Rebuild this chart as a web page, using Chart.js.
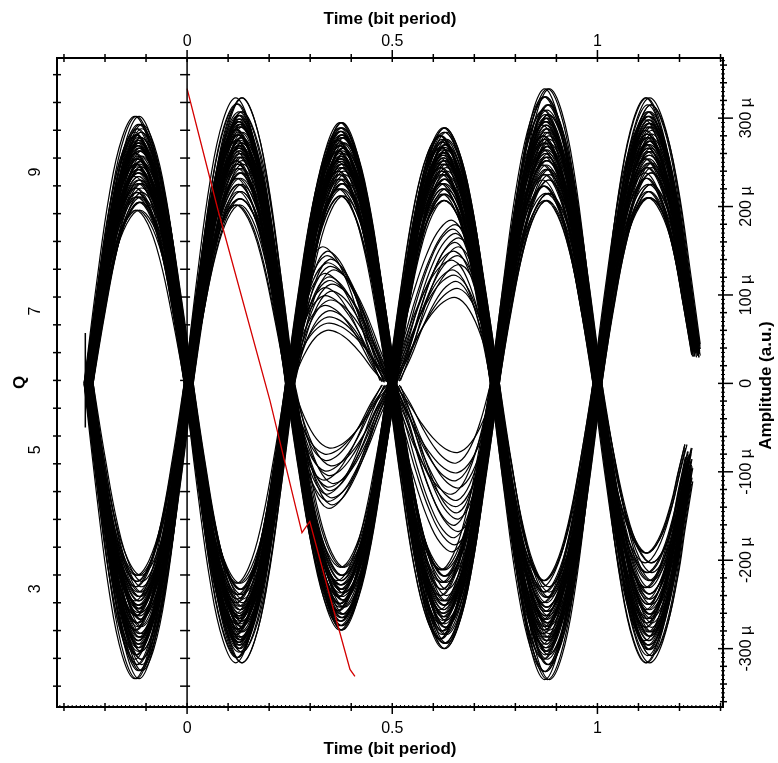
<!DOCTYPE html>
<html>
<head>
<meta charset="utf-8">
<script src="https://cdn.jsdelivr.net/npm/chart.js@4.4.1/dist/chart.umd.min.js"></script>
<style>
html, body { margin: 0; padding: 0; background: #fff; }
#wrap { width: 778px; height: 763px; position: relative; }
</style>
</head>
<body>
<div id="wrap"><canvas id="myChart"></canvas></div>
<script>
//Axis ranges
const timeMin = -0.317, timeMax = 1.306;
const qMin = 1.30, qMax = 10.64;
const ampMin = -366, ampMax = 368;

//Tick labels
const timeTickValues = [0, 0.5, 1];
const timeTickLabels = ['0', '0.5', '1'];
const qTickValues = [3, 5, 7, 9];
const ampTickValues = [-300, -200, -100, 0, 100, 200, 300];
const ampTickLabels = ['-300 \u00b5', '-200 \u00b5', '-100 \u00b5', '0', '100 \u00b5', '200 \u00b5', '300 \u00b5'];

//Where the eye crosses zero (bit period units)
const crossings = [-0.24, 0.004, 0.251, 0.5, 0.75, 1.0, 1.25];

//Timing jitter of the traces at the crossings
const jitter = [-0.011, 0.004, -0.003, 0.008, -0.006, 0.001, 0.010, -0.008, 0.003, -0.001,
                0.006, -0.004, 0.011, -0.009, 0.002, -0.005, 0.007, 0.000, -0.007, 0.005,
                -0.002, 0.009, -0.010, 0.004, -0.006, 0.008, -0.003, 0.001, 0.006, -0.008];
//every amplitude level shows up on several traces, each with its own jitter
const tracesPerLevel = [0, 11, 19];

//Shape of one lobe, position in slot and relative height
const lobeT = [0, 0.125, 0.25, 0.375, 0.5, 0.625, 0.75, 0.875, 1];
const lobeV = [0, 0.38, 0.71, 0.92, 1, 0.92, 0.71, 0.38, 0];
//last slot gets cut off before reaching zero (upper and lower stop at different places)
const tailUpT = [0, 0.125, 0.25, 0.375, 0.5, 0.625, 0.75, 0.875, 0.96];
const tailUpV = [0, 0.38, 0.71, 0.92, 1, 0.92, 0.71, 0.38, 0.14];
const tailDownT = [0, 0.125, 0.25, 0.375, 0.5, 0.625, 0.75, 0.82, 0.89];
const tailDownV = [0, 0.38, 0.71, 0.92, 1, 0.92, 0.71, 0.53, 0.36];
//smaller lobes around the middle crossing lean to one side
const leftLeanV = [0, 0.52, 0.86, 1, 0.95, 0.79, 0.55, 0.26, 0.02];
const rightLeanV = [0.02, 0.26, 0.55, 0.79, 0.95, 1, 0.86, 0.52, 0];

//Peak amplitudes (u a.u.) of the traces in each slot
const slot1Up = [302, 293, 288, 284, 281, 278, 275, 272, 269, 266, 263, 260, 257, 254, 251, 248, 245, 242, 238, 234, 230, 226, 221, 216, 211, 205, 196];
const slot1Down = [-334, -325, -318, -312, -307, -303, -299, -295, -291, -287, -283, -279, -275, -271, -267, -263, -259, -255, -251, -246, -241, -236, -230, -224, -217];
const slot2Up = [323, 316, 307, 303, 299, 296, 293, 290, 287, 284, 281, 278, 275, 272, 269, 266, 263, 260, 256, 252, 248, 243, 238, 232, 225, 217, 209, 202];
const slot2Down = [-316, -310, -304, -300, -296, -293, -290, -287, -284, -281, -278, -275, -272, -269, -266, -263, -260, -256, -252, -248, -244, -239, -233, -226];
const slot3Up = [295, 289, 285, 281, 278, 275, 272, 269, 266, 263, 260, 257, 254, 251, 248, 244, 240, 236, 231, 226, 220, 212];
const slot3Down = [-279, -274, -269, -265, -261, -257, -253, -249, -245, -241, -237, -233, -228, -223, -217, -208];
const slot3SmallUp = [154, 149, 144, 140, 136, 132, 128, 124, 120, 116, 112, 108, 104, 99, 94, 88, 82, 75, 68, 60];
const slot3SmallDown = [-141, -137, -133, -129, -125, -121, -117, -113, -109, -104, -99, -93, -87, -80, -73];
const slot4Up = [289, 284, 280, 276, 273, 270, 267, 264, 261, 258, 255, 252, 248, 244, 240, 236, 231, 226, 220, 214, 207];
const slot4Down = [-300, -294, -289, -284, -280, -276, -272, -268, -264, -260, -256, -251, -246, -240, -233, -225, -218, -211];
const slot4SmallUp = [184, 179, 174, 169, 164, 159, 154, 149, 144, 139, 134, 128, 122, 115, 107, 97];
const slot4SmallDown = [-190, -182, -174, -167, -160, -153, -146, -139, -132, -125, -118, -110, -101, -90, -78];
const slot5Up = [333, 324, 315, 309, 304, 300, 296, 292, 288, 284, 280, 276, 272, 268, 264, 260, 256, 252, 247, 242, 236, 230, 223, 215, 207];
const slot5Down = [-335, -326, -318, -312, -307, -303, -299, -295, -291, -287, -283, -279, -275, -271, -267, -263, -258, -253, -248, -242, -236, -230, -223];
const slot6Up = [323, 315, 307, 302, 298, 294, 290, 286, 282, 278, 274, 270, 266, 262, 258, 254, 249, 244, 238, 232, 225, 217, 210];
const slot6Down = [-316, -308, -301, -296, -291, -286, -281, -276, -271, -266, -261, -256, -250, -244, -238, -231, -223, -214, -203, -192];

//The small lobes end/start a bit off the middle crossing
const smallEnds3 = [0.470, 0.478, 0.485, 0.490, 0.495, 0.500, 0.505, 0.480, 0.488, 0.497, 0.502, 0.474, 0.492, 0.483, 0.499, 0.476, 0.487, 0.494, 0.503, 0.481];
const smallStarts4 = [0.485, 0.492, 0.500, 0.505, 0.510, 0.515, 0.520, 0.497, 0.508, 0.488, 0.512, 0.502, 0.494, 0.517, 0.506, 0.499];

//Stub at the very left edge
const stubTime = [-0.248, -0.248];
const stubAmp = [57, -50];

//Q curve (red), against decision time
const redTime = [0, 0.075, 0.202, 0.265, 0.280, 0.299, 0.348, 0.397, 0.409];
const redQ = [10.2, 8.46, 5.71, 4.17, 3.81, 3.97, 2.89, 1.84, 1.74];


//Makes one trace from a lobe shape
function makeLobe(start, end, tArr, vArr, amp)
{
    return tArr.map(function(t, i) {
        return { x: start + (end - start) * t, y: vArr[i] * amp };
    });
}

function traceLine(points)
{
    return {
        data: points,
        borderColor: '#000',
        borderWidth: 1.2,
        pointRadius: 0,
        tension: 0.4,
        xAxisID: 'x',
        yAxisID: 'amp'
    };
}

//a whole band of traces in one slot, every trace gets its own jitter at both ends
function bandSet(amps, slot, tArr, vArr)
{
    const n = jitter.length;
    let out = [];
    tracesPerLevel.forEach(function(shift) {
        amps.forEach(function(a, i) {
            const start = crossings[slot] + jitter[(i + slot * 3 + shift) % n];
            const end = crossings[slot + 1] + jitter[(i + slot * 3 + shift + 7) % n];
            out.push(traceLine(makeLobe(start, end, tArr, vArr, a)));
        });
    });
    return out;
}

let datasets = [];

//Red line goes first so it sits on top
datasets.push({
    data: redTime.map(function(t, i) { return { x: t, y: redQ[i] }; }),
    borderColor: '#d40000',
    borderWidth: 1.3,
    pointRadius: 0,
    tension: 0,
    xAxisID: 'x',
    yAxisID: 'q'
});

datasets.push({
    data: stubTime.map(function(t, i) { return { x: t, y: stubAmp[i] }; }),
    borderColor: '#000',
    borderWidth: 1.5,
    pointRadius: 0,
    xAxisID: 'x',
    yAxisID: 'amp'
});

datasets = datasets.concat(
    bandSet(slot1Up, 0, lobeT, lobeV),
    bandSet(slot1Down, 0, lobeT, lobeV),
    bandSet(slot2Up, 1, lobeT, lobeV),
    bandSet(slot2Down, 1, lobeT, lobeV),
    bandSet(slot3Up, 2, lobeT, lobeV),
    bandSet(slot3Down, 2, lobeT, lobeV),
    bandSet(slot4Up, 3, lobeT, lobeV),
    bandSet(slot4Down, 3, lobeT, lobeV),
    bandSet(slot5Up, 4, lobeT, lobeV),
    bandSet(slot5Down, 4, lobeT, lobeV),
    bandSet(slot6Up, 5, tailUpT, tailUpV),
    bandSet(slot6Down, 5, tailDownT, tailDownV)
);

//small lobes in slot 3 and 4, each with its own end point
slot3SmallUp.forEach(function(a, i) {
    datasets.push(traceLine(makeLobe(crossings[2] + jitter[i], smallEnds3[i], lobeT, leftLeanV, a)));
});
slot3SmallDown.forEach(function(a, i) {
    datasets.push(traceLine(makeLobe(crossings[2] + jitter[i + 5], smallEnds3[i + 3], lobeT, leftLeanV, a)));
});
slot4SmallUp.forEach(function(a, i) {
    datasets.push(traceLine(makeLobe(smallStarts4[i], crossings[4] + jitter[i + 2], lobeT, rightLeanV, a)));
});
slot4SmallDown.forEach(function(a, i) {
    datasets.push(traceLine(makeLobe(smallStarts4[i], crossings[4] + jitter[i + 9], lobeT, rightLeanV, a)));
});


//Draws the frame, ticks and labels like the original program does
const axesPlugin = {
    id: 'axesPlugin',
    afterDatasetsDraw(chart) {
        const ctx = chart.ctx;
        const a = chart.chartArea;
        const xs = chart.scales.x;
        const qs = chart.scales.q;
        const as = chart.scales.amp;

        ctx.save();
        ctx.strokeStyle = '#000';
        ctx.fillStyle = '#000';

        //frame
        ctx.lineWidth = 2;
        ctx.strokeRect(a.left, a.top, a.right - a.left, a.bottom - a.top);

        //line at time zero
        const x0 = xs.getPixelForValue(0);
        ctx.lineWidth = 1.5;
        ctx.beginPath();
        ctx.moveTo(x0, a.top);
        ctx.lineTo(x0, a.bottom);
        ctx.stroke();

        function hLine(x1, x2, y) { ctx.beginPath(); ctx.moveTo(x1, y); ctx.lineTo(x2, y); ctx.stroke(); }
        function vLine(x, y1, y2) { ctx.beginPath(); ctx.moveTo(x, y1); ctx.lineTo(x, y2); ctx.stroke(); }

        //time ticks, top and bottom
        ctx.lineWidth = 1;
        for (let i = -31; i <= 130; i++) {
            const px = xs.getPixelForValue(i / 100);
            if (px < a.left + 1 || px > a.right - 1) continue;
            if (i % 10 == 0) {
                const big = (i % 50 == 0);
                ctx.lineWidth = 1.5;
                vLine(px, a.top - (big ? 8 : 4), a.top + 4);
                vLine(px, a.bottom - 4, a.bottom + (big ? 7 : 4));
                ctx.lineWidth = 1;
            } else {
                vLine(px, a.bottom - 2, a.bottom);
            }
        }

        //Q ticks, left edge and on the zero line
        for (let i = 4; i <= 26; i++) {
            const v = i * 0.4;
            const py = qs.getPixelForValue(v);
            if (py < a.top + 1 || py > a.bottom - 1) continue;
            const big = Math.abs(v - Math.round(v)) < 0.01 && Math.round(v) % 2 == 1;
            ctx.lineWidth = 1.5;
            hLine(a.left - (big ? 7 : 4), a.left + 4, py);
            hLine(x0 - 7, x0 + 3, py);
        }

        //Amplitude ticks on the right
        for (let v = -365; v <= 365; v += 5) {
            const py = as.getPixelForValue(v);
            if (py < a.top + 1 || py > a.bottom - 1) continue;
            if (v % 100 == 0) {
                ctx.lineWidth = 1.5;
                hLine(a.right - 5, a.right + 10, py);
            } else if (v % 20 == 0) {
                ctx.lineWidth = 1.5;
                hLine(a.right - 3, a.right + 4, py);
            } else {
                ctx.lineWidth = 1;
                hLine(a.right - 2, a.right + 2, py);
            }
        }

        //tick labels
        ctx.font = '16px "Liberation Sans", Arial, sans-serif';
        ctx.textAlign = 'center';
        ctx.textBaseline = 'middle';
        timeTickValues.forEach(function(v, i) {
            const px = xs.getPixelForValue(v);
            ctx.fillText(timeTickLabels[i], px, 42);
            ctx.fillText(timeTickLabels[i], px, 729);
        });
        qTickValues.forEach(function(v) {
            const py = qs.getPixelForValue(v);
            ctx.save();
            ctx.translate(36, py);
            ctx.rotate(-Math.PI / 2);
            ctx.fillText(String(v), 0, 0);
            ctx.restore();
        });
        ampTickValues.forEach(function(v, i) {
            const py = as.getPixelForValue(v);
            ctx.save();
            ctx.translate(747, py);
            ctx.rotate(-Math.PI / 2);
            ctx.fillText(ampTickLabels[i], 0, 0);
            ctx.restore();
        });

        //axis titles
        ctx.font = 'bold 17px "Liberation Sans", Arial, sans-serif';
        const midX = (a.left + a.right) / 2;
        const midY = (a.top + a.bottom) / 2;
        ctx.fillText('Time (bit period)', midX, 19);
        ctx.fillText('Time (bit period)', midX, 749);
        ctx.save();
        ctx.translate(20, midY);
        ctx.rotate(-Math.PI / 2);
        ctx.fillText('Q', 0, 0);
        ctx.restore();
        ctx.save();
        ctx.translate(766, midY + 3);
        ctx.rotate(-Math.PI / 2);
        ctx.fillText('Amplitude (a.u.)', 0, 0);
        ctx.restore();

        ctx.restore();
    }
};


const ctx = document.getElementById('myChart').getContext('2d');
const myChart = new Chart(ctx, {
    type: 'line',
    data: { datasets: datasets },
    options: {
        responsive: true,
        maintainAspectRatio: false,
        animation: false,
        events: [],
        layout: { padding: { left: 57, right: 55, top: 58, bottom: 56 } },
        plugins: {
            legend: { display: false },
            tooltip: { enabled: false }
        },
        scales: {
            x: { type: 'linear', display: false, min: timeMin, max: timeMax },
            q: { type: 'linear', position: 'left', display: false, min: qMin, max: qMax },
            amp: { type: 'linear', position: 'right', display: false, min: ampMin, max: ampMax }
        }
    },
    plugins: [axesPlugin]
});
</script>
</body>
</html>
